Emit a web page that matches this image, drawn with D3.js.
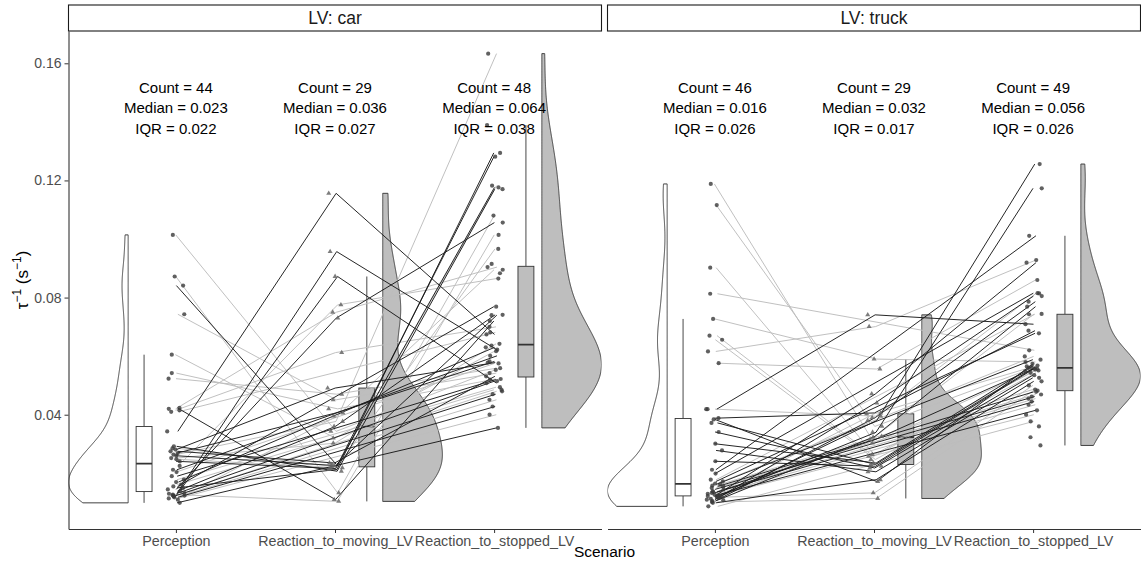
<!DOCTYPE html>
<html>
<head>
<meta charset="utf-8">
<script src="https://cdn.jsdelivr.net/npm/d3@7"></script>
<style>
  body { margin: 0; background: #fff; }
  svg text { font-family: "Liberation Sans", Arial, Helvetica, sans-serif; }
</style>
</head>
<body>
<svg id="chart" width="1141" height="566"></svg>
<script>
// ---- data -------------------------------------------------------------
const scenarios = ["Perception", "Reaction_to_moving_LV", "Reaction_to_stopped_LV"];
const facets = ["LV: car", "LV: truck"];
const yTicks = [0.04, 0.08, 0.12, 0.16];

// one entry per participant, inverse time-to-collision (1/s); null = no trial
const carPerception = [
  0.0343, 0.0130, 0.0122, 0.0225, 0.0420, 0.0145, 0.0415, 0.0281, 0.0523, 0.0743,
  0.0542, 0.0269, 0.0110, 0.0264, 0.0139, 0.1014, 0.0605, 0.0252, 0.0275, 0.0841,
  0.0260, 0.0285, 0.0248, 0.0241, 0.0150, 0.0292, 0.0872, 0.0423, 0.0127, 0.0410,
  0.0212, 0.0204, 0.0190, 0.0178, 0.0170, 0.0161, 0.0155, 0.0133, 0.0125, 0.0124,
  0.0121, 0.0118, 0.0114, 0.0099, null, null, null, null
];
const carMoving = [
  0.1156, 0.0957, 0.0872, 0.0775, 0.0750, 0.0730, 0.0612, 0.0491, 0.0470, 0.0451,
  0.0420, 0.0406, 0.0395, 0.0377, 0.0360, 0.0343, 0.0320, 0.0303, 0.0235, 0.0230,
  0.0226, 0.0222, 0.0219, 0.0216, 0.0213, 0.0207, 0.0133, 0.0110, 0.0104, null,
  null, null, null, null, null, null, null, null, null, null,
  null, null, null, null, null, null, null, null
];
const carStopped = [
  0.0674, 0.0622, 0.0508, 0.0865, 0.0904, 0.1056, 0.0700, 0.0578, 0.0559, 0.0542,
  0.0522, 0.0582, 0.0895, 0.1633, 0.0741, 0.0553, 0.0617, 0.0642, 0.0531, 0.0740,
  0.1176, 0.1182, 0.0966, 0.1281, 0.1294, 0.1170, 0.1080, 0.0720, 0.1014, 0.0681,
  0.0601, 0.0575, 0.0520, 0.0494, 0.0630, 0.0485, 0.0769, 0.0515, 0.0480, 0.0470,
  0.0451, 0.0428, 0.0400, 0.0355, 0.1389, 0.0915, 0.0883, 0.0636
];
// participant group: 0 = dark trajectory, 1 = light trajectory
const carGroup = [
  0, 0, 0, 1, 1, 0, 1, 0, 1, 1,  1, 0, 1, 1, 0, 1, 1, 1, 0, 0,
  0, 1, 1, 0, 0, 0, 1, 0, 1, 1,  0, 1, 0, 1, 0, 1, 0, 0, 1, 0,
  1, 0, 1, 0, 0, 1, 0, 1
];

const truckPerception = [
  0.0419, 0.0616, 0.0727, 0.0576, 0.0122, 0.0110, 0.0388, 0.0127, 0.0419, 0.0108,
  0.0113, 0.1116, 0.0119, 0.0105, 0.0116, 0.0133, 0.1188, 0.0902, 0.0670, 0.0656,
  0.0301, 0.0372, 0.0241, 0.0341, 0.0278, 0.0099, 0.0384, 0.0118, 0.0102, 0.0813,
  0.0212, 0.0199, 0.0178, 0.0172, 0.0165, 0.0162, 0.0158, 0.0155, 0.0150, 0.0145,
  0.0139, 0.0136, 0.0130, 0.0125, 0.0121, 0.0087, null, null, null
];
const truckMoving = [
  0.0741, 0.0701, 0.0590, 0.0556, 0.0471, 0.0440, 0.0406, 0.0403, 0.0395, 0.0390,
  0.0380, 0.0360, 0.0340, 0.0326, 0.0323, 0.0315, 0.0303, 0.0264, 0.0258, 0.0247,
  0.0235, 0.0230, 0.0224, 0.0218, 0.0205, 0.0178, 0.0172, 0.0133, 0.0114, null,
  null, null, null, null, null, null, null, null, null, null,
  null, null, null, null, null, null, null, null, null
];
const truckStopped = [
  0.0709, 0.0928, 0.0580, 0.0860, 0.0919, 0.0805, 0.0687, 0.0565, 0.0814, 0.0786,
  0.1256, 0.0560, 0.1173, 0.0769, 0.0744, 0.0558, 0.0554, 0.0551, 0.0548, 0.0543,
  0.0568, 0.0563, 0.0557, 0.0535, 0.0526, 0.0514, 0.0574, 0.0500, 0.0482, 0.0620,
  0.1011, 0.0815, 0.0743, 0.0678, 0.0599, 0.0588, 0.0486, 0.0478, 0.0469, 0.0462,
  0.0455, 0.0445, 0.0434, 0.0415, 0.0400, 0.0377, 0.0360, 0.0323, 0.0295
];
const truckGroup = [
  0, 1, 1, 1, 0, 0, 0, 1, 1, 0,  0, 1, 0, 0, 1, 0, 1, 1, 1, 1,
  0, 0, 0, 0, 0, 0, 0, 1, 1, 1,  0, 0, 1, 0, 1, 0, 1, 0, 1, 0,
  1, 0, 1, 0, 1, 1, 0, 1, 0
];

// ---- layout -------------------------------------------------------------
const plotTop = 31, plotBottom = 529, stripTop = 5;
const panelX = [[68.5, 601.5], [607.5, 1140.5]];
const violinOffset = 0.3, violinWidth = 0.375;   // in x-units
const boxOffset = 0.2, boxWidth = 0.1;
const pointJitter = 0.055, lineJitter = 0.022;
const sides = [-1, 1, 1];                         // perception cloud on the left
const statsLabelY = 0.1443;                       // centre of the 3-line summary
const fillGrey = "#bebebe";

const panels = [
  { label: facets[0], series: [carPerception, carMoving, carStopped], group: carGroup },
  { label: facets[1], series: [truckPerception, truckMoving, truckStopped], group: truckGroup }
];

const svg = d3.select("#chart");

const allValues = panels.flatMap(p => p.series.flat()).filter(v => v != null);
const [vMin, vMax] = d3.extent(allValues);
const pad = (vMax - vMin) * 0.05;
const y = d3.scaleLinear().domain([vMin - pad, vMax + pad]).range([plotBottom, plotTop]);

// gaussian kernel density, bandwidth by Silverman's rule (nrd0), trimmed to data range
function density(values) {
  const s = values.slice().sort(d3.ascending);
  const n = s.length;
  const sd = d3.deviation(s);
  const iqr = d3.quantile(s, 0.75) - d3.quantile(s, 0.25);
  const lo = Math.min(sd, iqr / 1.34) || sd;
  const bw = 0.9 * lo * Math.pow(n, -0.2);
  const k = 1 / (n * bw * Math.sqrt(2 * Math.PI));
  return d3.range(512).map(i => {
    const g = s[0] + (s[n - 1] - s[0]) * i / 511;
    return [g, k * d3.sum(s, v => Math.exp(-0.5 * ((g - v) / bw) ** 2))];
  });
}

function boxStats(values) {
  const s = values.slice().sort(d3.ascending);
  const q1 = d3.quantile(s, 0.25), q3 = d3.quantile(s, 0.75), med = d3.median(s);
  const iqr = q3 - q1;
  const lo = d3.min(s.filter(v => v >= q1 - 1.5 * iqr));
  const hi = d3.max(s.filter(v => v <= q3 + 1.5 * iqr));
  return { q1, q3, med, iqr, lo, hi, n: s.length };
}

// small deterministic spread so overlapping observations stay visible
function spread(i, j, salt) {
  const h = Math.sin((i + 1) * 12.9898 + (j + 1) * 78.233 + salt) * 43758.5453;
  return (h - Math.floor(h)) - 0.5;
}

const fmt = d3.format(".3f");

panels.forEach((panel, pi) => {
  const [x0, x1] = panelX[pi];
  const x = d3.scaleLinear()
    .domain([1 - violinOffset - violinWidth, 3 + violinOffset + violinWidth])
    .range([x0, x1]);

  const g = svg.append("g");
  const clipId = "clip" + pi;
  svg.append("clipPath").attr("id", clipId)
    .append("rect").attr("x", x0).attr("y", plotTop).attr("width", x1 - x0).attr("height", plotBottom - plotTop);
  const body = g.append("g").attr("clip-path", `url(#${clipId})`);

  // strip
  g.append("rect")
    .attr("x", x0).attr("y", stripTop).attr("width", x1 - x0).attr("height", plotTop - stripTop)
    .attr("fill", "#fff").attr("stroke", "#1a1a1a").attr("stroke-width", 1.1);
  g.append("text")
    .attr("x", (x0 + x1) / 2).attr("y", (stripTop + plotTop) / 2).attr("dy", "0.36em")
    .attr("text-anchor", "middle").attr("font-size", 17.5).attr("fill", "#1a1a1a")
    .text(panel.label);

  const values = panel.series.map(arr => arr.filter(v => v != null));

  // half violins
  values.forEach((vals, j) => {
    const side = sides[j];
    const dens = density(vals);
    const maxD = d3.max(dens, d => d[1]);
    const area = d3.area()
      .y(d => y(d[0]))
      .x0(x(j + 1 + side * violinOffset))
      .x1(d => x(j + 1 + side * (violinOffset + violinWidth * d[1] / maxD)));
    body.append("path")
      .attr("d", area(dens))
      .attr("fill", j === 0 ? "#fff" : fillGrey)
      .attr("stroke", "#404040").attr("stroke-width", 1);
  });

  // boxplots
  values.forEach((vals, j) => {
    const st = boxStats(vals);
    const cx = x(j + 1 + sides[j] * boxOffset);
    const hw = (x(boxWidth) - x(0)) / 2;
    const bg = body.append("g").attr("stroke", "#333");
    bg.append("line").attr("x1", cx).attr("x2", cx).attr("y1", y(st.hi)).attr("y2", y(st.q3)).attr("stroke-width", 0.9);
    bg.append("line").attr("x1", cx).attr("x2", cx).attr("y1", y(st.q1)).attr("y2", y(st.lo)).attr("stroke-width", 0.9);
    bg.append("rect")
      .attr("x", cx - hw).attr("width", 2 * hw)
      .attr("y", y(st.q3)).attr("height", y(st.q1) - y(st.q3))
      .attr("fill", j === 0 ? "#fff" : fillGrey).attr("stroke-width", 0.9);
    bg.append("line").attr("x1", cx - hw).attr("x2", cx + hw)
      .attr("y1", y(st.med)).attr("y2", y(st.med)).attr("stroke-width", 1.8);
  });

  // participant trajectories
  const n = panel.series[0].length;
  const line = d3.line().x(d => d[0]).y(d => d[1]);
  const paths = [];
  for (let i = 0; i < n; i++) {
    const pts = [];
    panel.series.forEach((arr, j) => {
      if (arr[i] != null) pts.push([x(j + 1 + lineJitter * (spread(i, j, 3.1) + 0.35)), y(arr[i])]);
    });
    if (pts.length > 1) paths.push({ pts, group: panel.group[i] });
  }
  // light lines underneath, dark lines on top
  paths.sort((a, b) => b.group - a.group);
  body.selectAll("path.traj").data(paths).join("path")
    .attr("class", "traj")
    .attr("d", d => line(d.pts))
    .attr("fill", "none")
    .attr("stroke", d => d.group ? "#bdbdbd" : "#1a1a1a")
    .attr("stroke-width", 0.95);

  // observations
  panel.series.forEach((arr, j) => {
    arr.forEach((v, i) => {
      if (v == null) return;
      const px = x(j + 1 + 2 * pointJitter * spread(i, j, 7.7));
      const py = y(v);
      if (j === 1) {
        body.append("path")
          .attr("d", d3.symbol(d3.symbolTriangle, 11)())
          .attr("transform", `translate(${px},${py})`)
          .attr("fill", "#666").attr("fill-opacity", 0.85);
      } else {
        body.append("circle").attr("cx", px).attr("cy", py).attr("r", 2.1)
          .attr("fill", "#3a3a3a").attr("fill-opacity", 0.8);
      }
    });
  });

  // summary text
  values.forEach((vals, j) => {
    const st = boxStats(vals);
    const t = g.append("text")
      .attr("x", x(j + 1)).attr("y", y(statsLabelY))
      .attr("text-anchor", "middle").attr("font-size", 15).attr("fill", "#000")
      .attr("dominant-baseline", "middle");
    [`Count = ${st.n}`, `Median = ${fmt(st.med)}`, `IQR = ${fmt(st.iqr)}`].forEach((s, k) => {
      t.append("tspan").attr("x", x(j + 1)).attr("dy", k === 0 ? "-1.36em" : "1.36em").text(s);
    });
  });

  // x axis
  const xAxis = g.append("g")
    .attr("transform", `translate(0,${plotBottom})`)
    .call(d3.axisBottom(x).tickValues([1, 2, 3]).tickFormat((d, i) => scenarios[i]).tickSizeInner(4).tickSizeOuter(0));
  xAxis.select(".domain").attr("stroke", "#333").attr("stroke-width", 1.1);
  xAxis.selectAll(".tick line").attr("stroke", "#333");
  xAxis.selectAll(".tick text").attr("fill", "#4d4d4d").attr("font-size", 14.3).attr("dy", "0.72em")
    .attr("font-family", "Liberation Sans, Arial, sans-serif");

  // y axis on the first panel only
  if (pi === 0) {
    const yAxis = g.append("g")
      .attr("transform", `translate(${x0},0)`)
      .call(d3.axisLeft(y).tickValues(yTicks).tickFormat(d3.format(".2f")).tickSizeInner(4).tickSizeOuter(0));
    yAxis.select(".domain").attr("stroke", "#333").attr("stroke-width", 1.1);
    yAxis.selectAll(".tick line").attr("stroke", "#333");
    yAxis.selectAll(".tick text").attr("fill", "#4d4d4d").attr("font-size", 14)
      .attr("font-family", "Liberation Sans, Arial, sans-serif");
  }
});

// axis titles
svg.append("text")
  .attr("x", (panelX[0][0] + panelX[1][1]) / 2).attr("y", 557)
  .attr("text-anchor", "middle").attr("font-size", 15.5).attr("fill", "#000")
  .text("Scenario");

const yTitle = svg.append("text")
  .attr("transform", `translate(28,${(plotTop + plotBottom) / 2}) rotate(-90)`)
  .attr("text-anchor", "middle").attr("font-size", 17).attr("fill", "#000");
yTitle.append("tspan").text("τ");
yTitle.append("tspan").attr("font-size", 12).attr("dy", -7).text("−1");
yTitle.append("tspan").attr("dy", 7).text(" (s");
yTitle.append("tspan").attr("font-size", 12).attr("dy", -7).text("−1");
yTitle.append("tspan").attr("dy", 7).text(")");
</script>
</body>
</html>
